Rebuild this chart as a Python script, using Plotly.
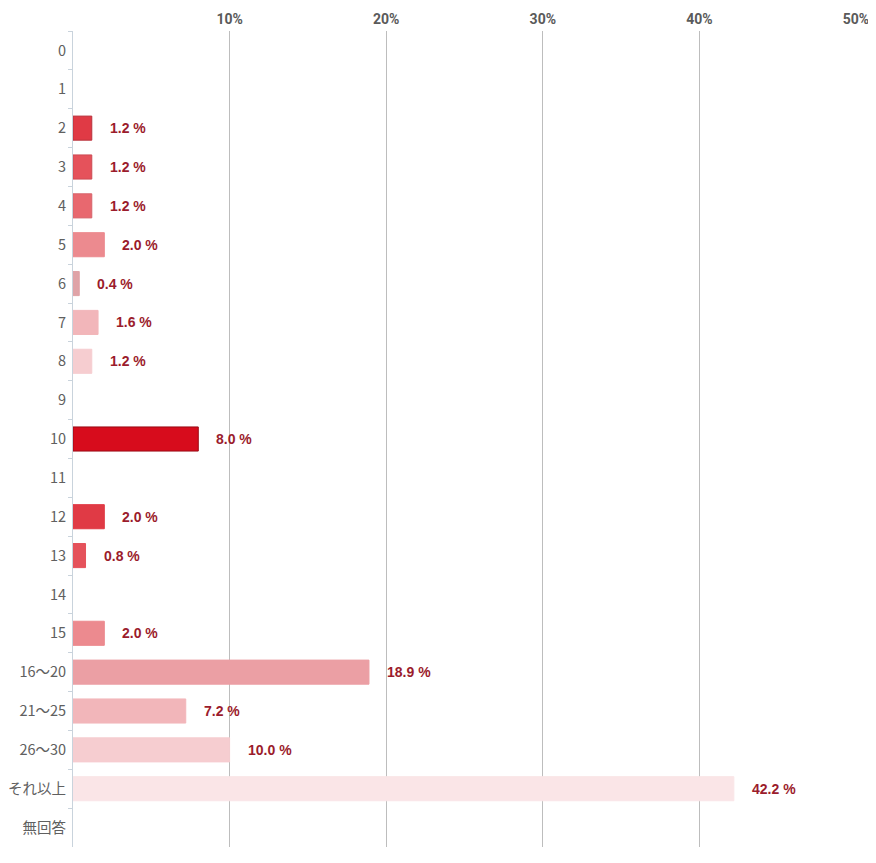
import plotly.graph_objects as go

categories = ["0", "1", "2", "3", "4", "5", "6", "7", "8", "9", "10", "11", "12", "13", "14", "15",
              "16～20", "21～25", "26～30", "それ以上", "無回答"]
values = [0, 0, 1.2, 1.2, 1.2, 2.0, 0.4, 1.6, 1.2, 0, 8.0, 0, 2.0, 0.8, 0, 2.0, 18.9, 7.2, 10.0, 42.2, 0]
colors = ["#e03a45", "#e03a45", "#e03a45", "#e5525b", "#e8686f", "#ec8a8f", "#dfa3a7", "#f2b6ba",
          "#f6cdd0", "#f6cdd0", "#d70c1c", "#d70c1c", "#e03a45", "#e5525b", "#e8686f", "#ec8a8f",
          "#eb9fa4", "#f2b6ba", "#f6cdd0", "#fae5e7", "#fae5e7"]
line_colors = ["#c0303a", "#c0303a", "#b8323c", "#cc4a53", "#d6636a", "#ec8a8f", "#dfa3a7", "#f2b6ba",
               "#f6cdd0", "#f6cdd0", "#9a0a14", "#9a0a14", "#e03a45", "#e5525b", "#e8686f", "#ec8a8f",
               "#eb9fa4", "#f2b6ba", "#f6cdd0", "#fae5e7", "#fae5e7"]
tick_vals = [10, 20, 30, 40, 50]
tick_text = ["10%", "20%", "30%", "40%", "50%"]

line_widths = [1 if v > 0 else 0 for v in values]
bar_values = [v if v > 0 else None for v in values]

fig = go.Figure()
fig.add_trace(go.Bar(
    y=categories, x=bar_values, orientation="h",
    marker=dict(color=colors, line=dict(color=line_colors, width=line_widths)),
    width=0.62, hoverinfo="skip",
))

for c, v in zip(categories, values):
    if v > 0:
        fig.add_annotation(x=v, y=c, text=f"<b>{v:.1f} %</b>", showarrow=False,
                           xanchor="left", xshift=16,
                           font=dict(family="Liberation Sans, Arial, sans-serif", size=14, color="#9b1c2c"))

# page body has an 8px default margin, so the figure is sized/offset to compensate
fig.update_layout(
    width=868, height=855,
    margin=dict(l=65, r=20, t=23, b=16),
    plot_bgcolor="white", paper_bgcolor="white",
    showlegend=False,
    font=dict(family="Roboto, DejaVu Sans, sans-serif"),
    xaxis=dict(
        side="top", range=[0, 50], tickvals=tick_vals, ticktext=tick_text,
        showgrid=True, gridcolor="#bdbdbd", gridwidth=1, zeroline=False,
        tickfont=dict(size=14, color="#5a5a5a", family="Roboto, sans-serif", weight="bold"),
        showline=False, ticks="", ticklabelstandoff=3, automargin=False,
    ),
    yaxis=dict(
        type="category", categoryorder="array", categoryarray=categories,
        autorange="reversed", showgrid=False, zeroline=False,
        showline=True, linecolor="#c9d3dc", linewidth=1,
        ticks="outside", tickson="boundaries", ticklen=4, tickcolor="#c9d3dc",
        tickfont=dict(size=14.5, color="#606060", family="Noto Sans CJK JP, Roboto, sans-serif"),
        ticklabelstandoff=3, automargin=False,
    ),
)

fig.write_html("out.html")
